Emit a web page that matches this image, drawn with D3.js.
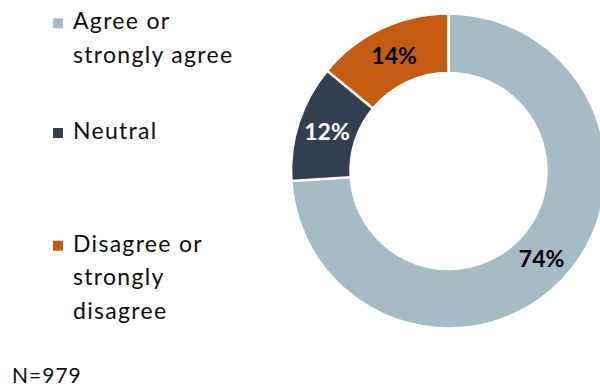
<!DOCTYPE html>
<html>
<head>
<meta charset="utf-8">
<script src="https://cdn.jsdelivr.net/npm/d3@7"></script>
<style>
  html, body { margin: 0; padding: 0; background: #fff; }
  svg { display: block; }
</style>
</head>
<body>
<svg id="chart" width="600" height="387"></svg>
<script>
// Survey response shares (percent)
const categories = ["Agree or strongly agree", "Neutral", "Disagree or strongly disagree"];
const values = [74, 12, 14];
const legendLines = [["Agree or", "strongly agree"], ["Neutral"], ["Disagree or", "strongly", "disagree"]];
const colors = ["#A5BCC6", "#333F50", "#C55A11"];
const labelColors = ["#000000", "#ffffff", "#000000"];
const sampleNote = "N=979";

const svg = d3.select("#chart");
const font = "Lato, 'Open Sans', sans-serif";

// Donut
const cx = 448.5, cy = 171, rOuter = 157.5, rInner = 98;
const data = categories.map((c, i) => ({ name: c, value: values[i], i }));
const pie = d3.pie().value(d => d.value).sort(null);
const arc = d3.arc().innerRadius(rInner).outerRadius(rOuter);
const g = svg.append("g").attr("transform", `translate(${cx},${cy})`);

const arcs = pie(data);
g.selectAll("path")
  .data(arcs)
  .join("path")
  .attr("d", arc)
  .attr("fill", d => colors[d.data.i])
  .attr("stroke", "#fff")
  .attr("stroke-width", 2.5);

g.selectAll("text.val")
  .data(arcs)
  .join("text")
  .attr("class", "val")
  .attr("transform", d => `translate(${arc.centroid(d)})`)
  .attr("text-anchor", "middle")
  .attr("dy", "0.36em")
  .attr("font-family", font)
  .attr("font-weight", 700)
  .attr("font-size", 23)
  .attr("fill", d => labelColors[d.data.i])
  .text(d => d.data.value + "%");

// Legend
const legendTop = [29.3, 139, 251.7];
const lineH = 33.5;
const leg = svg.append("g");
legendLines.forEach((lines, i) => {
  leg.append("rect")
    .attr("x", 53).attr("y", legendTop[i] - 11)
    .attr("width", 10).attr("height", 10)
    .attr("fill", colors[i]);
  const t = leg.append("text")
    .attr("font-family", font)
    .attr("font-size", 23)
    .attr("letter-spacing", 1.3)
    .attr("fill", "#0d0d0d");
  lines.forEach((ln, k) => {
    t.append("tspan").attr("x", 73).attr("y", legendTop[i] + k * lineH).text(ln);
  });
});

// Sample size note
svg.append("text")
  .attr("x", 12).attr("y", 383)
  .attr("font-family", font)
  .attr("font-size", 21)
  .attr("letter-spacing", 1)
  .attr("fill", "#0d0d0d")
  .text(sampleNote);
</script>
</body>
</html>
